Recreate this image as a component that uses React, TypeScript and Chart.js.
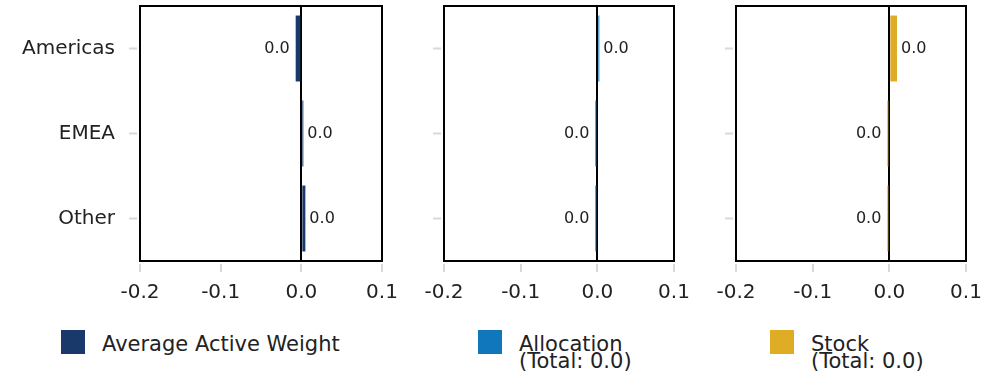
import React, { useEffect, useRef } from "react";
import { Chart, registerables } from "chart.js";

Chart.register(...registerables);

// ---- data ----
const categories = ["Americas", "EMEA", "Other"];
const activeWeight = [-0.007, 0.002, 0.005];
const allocation = [0.001, -0.001, -0.001];
const stock = [0.01, -0.001, -0.001];
const xTicks = [-0.2, -0.1, 0.0, 0.1];
const xMin = -0.2;
const xMax = 0.1;
const legendTitles = ["Average Active Weight", "Allocation", "Stock"];
const legendTotals = ["", "(Total: 0.0)", "(Total: 0.0)"];

const FONT = "'DejaVu Sans', sans-serif";
const TEXT = "#222222";
const TICK_GRAY = "#d9d9d9";

const fmt = (v: number) => (Math.round(v * 10) / 10).toFixed(1);

const panels = [
  { values: activeWeight, color: "#18396a", left: 0, width: 400, yWidth: 140, padRight: 18, showLabels: true },
  { values: allocation, color: "#1177bd", left: 400, width: 290, yWidth: 44, padRight: 16, showLabels: false },
  { values: stock, color: "#dfad25", left: 690, width: 303, yWidth: 46, padRight: 27, showLabels: false },
];

const legends = [
  { color: "#18396a", boxLeft: 61, textLeft: 102 },
  { color: "#1177bd", boxLeft: 478, textLeft: 519 },
  { color: "#dfad25", boxLeft: 770, textLeft: 811 },
];

const boxPlugin = {
  id: "boxPlugin",
  afterDraw(chart: any) {
    const { ctx, chartArea } = chart;
    ctx.save();
    ctx.strokeStyle = "#000";
    ctx.lineWidth = 2;
    ctx.strokeRect(chartArea.left, chartArea.top, chartArea.right - chartArea.left, chartArea.bottom - chartArea.top);
    ctx.restore();
  },
};

const labelPlugin = {
  id: "labelPlugin",
  afterDatasetsDraw(chart: any) {
    const { ctx } = chart;
    const meta = chart.getDatasetMeta(0);
    const values = chart.data.datasets[0].data as number[];
    ctx.save();
    ctx.font = `16px ${FONT}`;
    ctx.fillStyle = TEXT;
    ctx.textBaseline = "middle";
    meta.data.forEach((bar: any, i: number) => {
      const v = values[i];
      if (v >= 0) {
        ctx.textAlign = "left";
        ctx.fillText(fmt(v), bar.x + 4, bar.y);
      } else {
        ctx.textAlign = "right";
        ctx.fillText(fmt(v), bar.x - 6, bar.y);
      }
    });
    ctx.restore();
  },
};

function Panel({ cfg }: { cfg: (typeof panels)[number] }) {
  const ref = useRef<HTMLCanvasElement>(null);
  useEffect(() => {
    const chart = new Chart(ref.current as HTMLCanvasElement, {
      type: "bar",
      data: {
        labels: categories,
        datasets: [
          {
            data: cfg.values,
            backgroundColor: cfg.color,
            barPercentage: 0.776,
            categoryPercentage: 1,
            minBarLength: 2,
          },
        ],
      },
      options: {
        indexAxis: "y",
        animation: false,
        responsive: false,
        maintainAspectRatio: false,
        layout: { padding: { left: 0, right: cfg.padRight, top: 6, bottom: 0 } },
        plugins: { legend: { display: false }, tooltip: { enabled: false } },
        scales: {
          x: {
            type: "linear",
            min: xMin,
            max: xMax,
            afterBuildTicks: (s: any) => {
              s.ticks = xTicks.map((v) => ({ value: v }));
            },
            afterFit: (s: any) => {
              s.height = 49;
              s.paddingLeft = 0;
              s.paddingRight = 0;
            },
            grid: {
              drawOnChartArea: true,
              color: (c: any) => (c.tick && Math.abs(c.tick.value) < 1e-9 ? "#000" : "rgba(0,0,0,0)"),
              lineWidth: 2,
              tickColor: TICK_GRAY,
              tickLength: 11,
              tickWidth: 2,
              tickBorderDash: [0, 3, 8, 100],
            },
            border: { display: false },
            ticks: {
              color: TEXT,
              font: { family: FONT, size: 20 },
              padding: 9,
              maxRotation: 0,
              autoSkip: false,
              callback: (v: any) => fmt(Number(v)),
            },
          },
          y: {
            afterFit: (s: any) => {
              s.width = cfg.yWidth;
              s.paddingTop = 0;
              s.paddingBottom = 0;
            },
            grid: {
              offset: false,
              drawOnChartArea: false,
              tickColor: TICK_GRAY,
              tickLength: 11,
              tickWidth: 2,
              tickBorderDash: [8, 100],
            },
            border: { display: false },
            ticks: {
              display: cfg.showLabels,
              color: TEXT,
              font: { family: FONT, size: 20 },
              padding: 14,
            },
          },
        },
      } as any,
      plugins: [boxPlugin, labelPlugin],
    });
    return () => chart.destroy();
  }, []);
  return (
    <canvas
      ref={ref}
      width={cfg.width}
      height={310}
      style={{ position: "absolute", left: cfg.left, top: 0, width: cfg.width, height: 310 }}
    />
  );
}

export default function App() {
  return (
    <div style={{ position: "absolute", left: 0, top: 0, width: 993, height: 380, background: "#fff", overflow: "hidden" }}>
      {panels.map((p, i) => (
        <Panel key={i} cfg={p} />
      ))}
      {legends.map((l, i) => (
        <React.Fragment key={"lg" + i}>
          <div style={{ position: "absolute", left: l.boxLeft, top: 330, width: 24, height: 24, background: l.color }} />
          <div
            style={{
              position: "absolute",
              left: l.textLeft,
              top: 336,
              font: `21px ${FONT}`,
              lineHeight: "17px",
              color: TEXT,
              whiteSpace: "nowrap",
            }}
          >
            <div>{legendTitles[i]}</div>
            {legendTotals[i] ? <div>{legendTotals[i]}</div> : null}
          </div>
        </React.Fragment>
      ))}
    </div>
  );
}
